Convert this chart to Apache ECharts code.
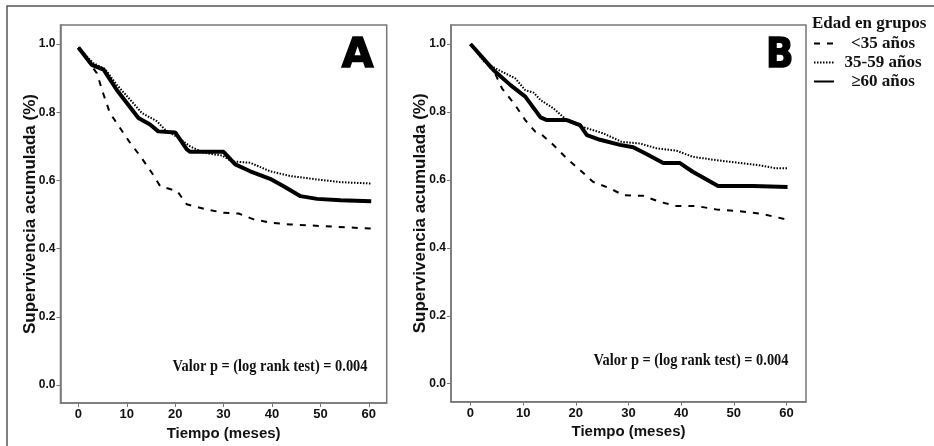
<!DOCTYPE html>
<html>
<head>
<meta charset="utf-8">
<script src="https://cdn.jsdelivr.net/npm/echarts@6/dist/echarts.min.js"></script>
<style>html,body{margin:0;padding:0;background:#fff;}#c{width:934px;height:446px;}</style>
</head>
<body>
<div id="c"></div>
<script>
const groups = ['<35 años', '35-59 años', '≥60 años'];
const xTicks = [0, 10, 20, 30, 40, 50, 60];
const yTicks = [0, 0.2, 0.4, 0.6, 0.8, 1.0];

// Panel A
const aLt35T = [0, 2.5, 3.8, 5.2, 6.5, 8.6, 10.7, 12.8, 15.2, 16.9, 20.4, 22.4, 25.9, 30.0, 33.1, 36.2, 39.7, 43.8, 50.7, 60.4];
const aLt35S = [0.99, 0.94, 0.915, 0.852, 0.798, 0.754, 0.710, 0.671, 0.622, 0.583, 0.569, 0.530, 0.517, 0.505, 0.503, 0.486, 0.476, 0.471, 0.466, 0.459];
const aMidT = [0, 3.1, 5.5, 7.9, 11.0, 13.1, 16.2, 17.9, 20.7, 23.1, 25.9, 29.7, 31.7, 35.5, 39.6, 43.8, 49.3, 54.2, 60.5];
const aMidS = [0.99, 0.944, 0.927, 0.881, 0.832, 0.798, 0.774, 0.749, 0.725, 0.700, 0.681, 0.673, 0.656, 0.652, 0.627, 0.613, 0.603, 0.595, 0.591];
const aOldT = [0, 2.75, 5.2, 7.9, 12.4, 14.8, 16.5, 20.0, 22.4, 23.1, 30.0, 32.4, 35.5, 39.6, 42.4, 45.9, 49.3, 54.2, 60.5];
const aOldS = [0.99, 0.939, 0.925, 0.866, 0.783, 0.764, 0.744, 0.741, 0.691, 0.684, 0.684, 0.647, 0.627, 0.605, 0.583, 0.554, 0.546, 0.542, 0.539];

// Panel B
const bLt35T = [0, 3.5, 4.8, 6.0, 8.5, 10.4, 12.3, 13.6, 15.8, 18.3, 20.8, 23.3, 26.5, 29.0, 32.8, 36.0, 39.1, 42.9, 46.7, 51.1, 54.9, 60.2];
const bLt35S = [1.0, 0.935, 0.909, 0.869, 0.820, 0.776, 0.742, 0.732, 0.702, 0.663, 0.629, 0.594, 0.575, 0.555, 0.553, 0.535, 0.523, 0.523, 0.513, 0.508, 0.501, 0.483];
const bMidT = [0, 2.6, 5.4, 8.5, 10.4, 12.0, 13.3, 15.8, 18.3, 20.2, 22.1, 25.2, 28.7, 32.2, 35.3, 39.1, 42.2, 46.7, 51.1, 54.9, 58.0, 60.2];
const bMidS = [1.0, 0.948, 0.923, 0.899, 0.864, 0.857, 0.835, 0.810, 0.776, 0.761, 0.752, 0.737, 0.712, 0.707, 0.693, 0.686, 0.668, 0.658, 0.650, 0.643, 0.634, 0.634];
const bOldT = [0, 4.4, 7.6, 10.4, 13.3, 14.5, 18.3, 20.8, 22.1, 24.6, 28.4, 30.9, 33.4, 36.6, 39.7, 42.2, 47.0, 53.6, 60.2];
const bOldS = [1.0, 0.923, 0.879, 0.845, 0.784, 0.776, 0.776, 0.761, 0.732, 0.718, 0.703, 0.696, 0.676, 0.650, 0.650, 0.624, 0.582, 0.582, 0.579];

const pText = 'Valor p = (log rank test) = 0.004';
const xName = 'Tiempo (meses)';
const yName = 'Supervivencia acumulada (%)';
const legendTitle = 'Edad en grupos';

function pairs(t, s) { return t.map((v, i) => [v, s[i]]); }

const sans = '"Liberation Sans", Arial, sans-serif';
const serif = '"Liberation Serif", "Times New Roman", serif';
const axisGray = '#777';

const styles = [
  { type: [6, 7], width: 2 },
  { type: [1.5, 1.5], width: 2 },
  { type: 'solid', width: 4 }
];

function mkX(gi) {
  return {
    type: 'value', gridIndex: gi, min: -3.7, max: 63.7,
    name: xName, nameLocation: 'middle', nameGap: 20,
    nameTextStyle: { fontFamily: sans, fontWeight: 'bold', fontSize: 15, color: '#111' },
    axisLine: { show: true, onZero: false, lineStyle: { color: axisGray, width: 1.5 } },
    axisTick: { show: true, length: 4, customValues: xTicks, lineStyle: { color: axisGray } },
    axisLabel: { customValues: xTicks, margin: 5, fontFamily: sans, fontWeight: 'bold', fontSize: 13, color: '#111' },
    splitLine: { show: false }
  };
}
function mkY(gi) {
  return {
    type: 'value', gridIndex: gi, min: -0.053, max: 1.056,
    name: yName, nameLocation: 'middle', nameGap: 22, nameRotate: 90, nameMoveOverlap: false,
    nameTextStyle: { fontFamily: sans, fontWeight: 'bold', fontSize: 17, color: '#111' },
    axisLine: { show: true, onZero: false, lineStyle: { color: axisGray, width: 1.5 } },
    axisTick: { show: true, length: 4, customValues: yTicks, lineStyle: { color: axisGray } },
    axisLabel: { customValues: yTicks, margin: 5, fontFamily: sans, fontWeight: 'bold', fontSize: 12, color: '#111',
      formatter: v => v.toFixed(1) },
    splitLine: { show: false }
  };
}

const panelData = [
  [pairs(aLt35T, aLt35S), pairs(aMidT, aMidS), pairs(aOldT, aOldS)],
  [pairs(bLt35T, bLt35S), pairs(bMidT, bMidS), pairs(bOldT, bOldS)]
];

const series = [];
panelData.forEach((pd, pi) => {
  pd.forEach((d, gi) => {
    series.push({
      type: 'line', name: groups[gi], xAxisIndex: pi, yAxisIndex: pi,
      data: d, symbol: 'none', smooth: false, z: 2 + gi,
      lineStyle: { color: '#000', width: styles[gi].width, type: styles[gi].type },
      itemStyle: { color: '#000' }
    });
  });
});

const chart = echarts.init(document.getElementById('c'), null, { renderer: 'canvas' });
chart.setOption({
  animation: false,
  backgroundColor: '#fff',
  title: {
    text: legendTitle, left: 812, top: 15, padding: 0,
    textStyle: { fontFamily: serif, fontWeight: 'bold', fontSize: 17, color: '#111' }
  },
  legend: {
    data: groups, orient: 'vertical', left: 813, top: 35, padding: 0,
    itemWidth: 20, itemHeight: 12, itemGap: 2, selectedMode: false,
    itemStyle: { opacity: 0 },
    formatter: n => '{c|' + n + '}',
    textStyle: { rich: { c: { width: 88, align: 'center', fontFamily: serif, fontWeight: 'bold', fontSize: 17, lineHeight: 15, color: '#111' } } }
  },
  grid: [
    { left: 60.5, top: 25, right: 547.3, bottom: 42.7, show: true, borderColor: axisGray, borderWidth: 1.5, containLabel: false },
    { left: 451, top: 25, right: 128, bottom: 44.3, show: true, borderColor: axisGray, borderWidth: 1.5, containLabel: false }
  ],
  xAxis: [mkX(0), mkX(1)],
  yAxis: [mkY(0), mkY(1)],
  series: series,
  graphic: [
    { type: 'rect', shape: { x: 7, y: 6, width: 960, height: 460 }, style: { fill: 'none', stroke: '#555', lineWidth: 1.5 }, silent: true },
    { type: 'text', x: 357.7, y: 56, style: { text: 'A', align: 'center', verticalAlign: 'middle', font: 'bold 41px "DejaVu Sans", sans-serif', fill: '#000', stroke: '#000', lineWidth: 1.5 } },
    { type: 'text', x: 779.7, y: 56, scaleX: 0.88, style: { text: 'B', align: 'center', verticalAlign: 'middle', font: 'bold 41px "DejaVu Sans", sans-serif', fill: '#000', stroke: '#000', lineWidth: 1.5 } },
    { type: 'text', x: 367.5, y: 367, scaleX: 0.9, style: { text: pText, align: 'right', verticalAlign: 'middle', font: 'bold 16px "Liberation Serif", serif', fill: '#111' } },
    { type: 'text', x: 788.5, y: 361, scaleX: 0.9, style: { text: pText, align: 'right', verticalAlign: 'middle', font: 'bold 16px "Liberation Serif", serif', fill: '#111' } }
  ]
});
</script>
</body>
</html>
